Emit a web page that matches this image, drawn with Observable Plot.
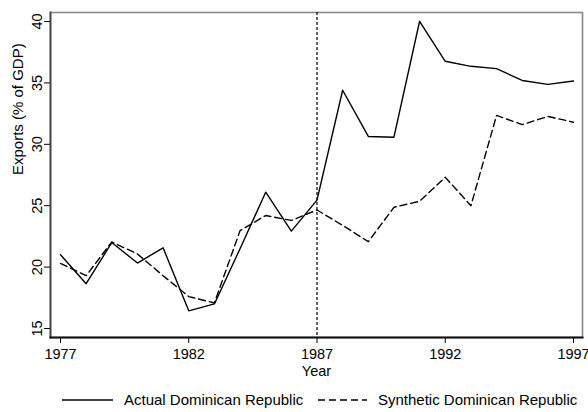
<!DOCTYPE html>
<html>
<head>
<meta charset="utf-8">
<script src="https://cdn.jsdelivr.net/npm/d3@7"></script>
<script src="https://cdn.jsdelivr.net/npm/@observablehq/plot@0.6"></script>
<style>
  body { margin: 0; background: #fff; font-family: "Liberation Sans", Arial, sans-serif; }
  #chart svg { display: block; }
  .legend { position: relative; height: 32px; font-size: 15px; color: #000; }
  .legend .item { position: absolute; top: 11px; display: flex; align-items: center; }
  .legend svg { margin-right: 11px; }
</style>
</head>
<body>
<div id="chart"></div>
<div class="legend">
  <div class="item" style="left:62px">
    <svg width="51" height="10"><line x1="0" y1="5" x2="51" y2="5" stroke="#000" stroke-width="1.4"/></svg>
    <span id="lab0"></span>
  </div>
  <div class="item" style="left:318px">
    <svg width="49" height="10"><line x1="0" y1="5" x2="49" y2="5" stroke="#000" stroke-width="1.4" stroke-dasharray="7,4"/></svg>
    <span id="lab1"></span>
  </div>
</div>
<script>
// años y series (exportaciones, % del PIB)
const years = d3.range(1977, 1998)
const actual = [21.0, 18.65, 22.0, 20.33, 21.57, 16.44, 17.0, 21.5, 26.1, 22.93, 25.45,
  34.4, 30.64, 30.58, 40.02, 36.76, 36.35, 36.16, 35.2, 34.88, 35.15]
const synthetic = [20.3, 19.3, 22.05, 21.07, 19.3, 17.6, 17.08, 22.97, 24.2, 23.8, 24.65,
  23.4, 22.07, 24.87, 25.36, 27.32, 25.0, 32.35, 31.6, 32.27, 31.8]
const seriesNames = ["Actual Dominican Republic", "Synthetic Dominican Republic"]
const xTicks = [1977, 1982, 1987, 1992, 1997]
const yTicks = [15, 20, 25, 30, 35, 40]
const treatYear = 1987

const dataActual = years.map((y, i) => ({year: y, value: actual[i]}))
const dataSynth = years.map((y, i) => ({year: y, value: synthetic[i]}))

document.getElementById("lab0").textContent = seriesNames[0]
document.getElementById("lab1").textContent = seriesNames[1]

const chart = Plot.plot({
  width: 588,
  height: 380,
  marginLeft: 50,
  marginRight: 6,
  marginTop: 12,
  marginBottom: 43,
  style: {fontFamily: "Liberation Sans, Arial, sans-serif", fontSize: "14.5px", color: "#000"},
  x: {domain: [1977, 1997], insetLeft: 10, insetRight: 9},
  y: {domain: [15, 40], insetTop: 9, insetBottom: 9},
  marks: [
    Plot.frame({stroke: "#888", strokeWidth: 1.6}),
    Plot.ruleX([treatYear], {stroke: "#000", strokeWidth: 1.2, strokeDasharray: "3,2"}),
    Plot.line(dataSynth, {x: "year", y: "value", stroke: "#000", strokeWidth: 1.4, strokeDasharray: "7,4"}),
    Plot.line(dataActual, {x: "year", y: "value", stroke: "#000", strokeWidth: 1.4}),
    Plot.axisX({ticks: xTicks, tickFormat: d => String(d), tickSize: 6, tickPadding: 5,
      label: null, fontSize: 14.5}),
    Plot.text(["Year"], {frameAnchor: "bottom", dy: 38, fontSize: 14.5, fill: "#000"}),
    Plot.axisY({ticks: yTicks, tickSize: 6, tickPadding: 3, tickRotate: -90,
      label: null, fontSize: 14.5}),
    Plot.text(["Exports (% of GDP)"], {frameAnchor: "left", dx: -32, rotate: -90, fontSize: 15, fill: "#000"}),
    Plot.frame({anchor: "left", stroke: "#444", strokeWidth: 1.8}),
    Plot.frame({anchor: "bottom", stroke: "#111", strokeWidth: 2})
  ]
})

d3.select("#chart").append(() => chart)
</script>
</body>
</html>
